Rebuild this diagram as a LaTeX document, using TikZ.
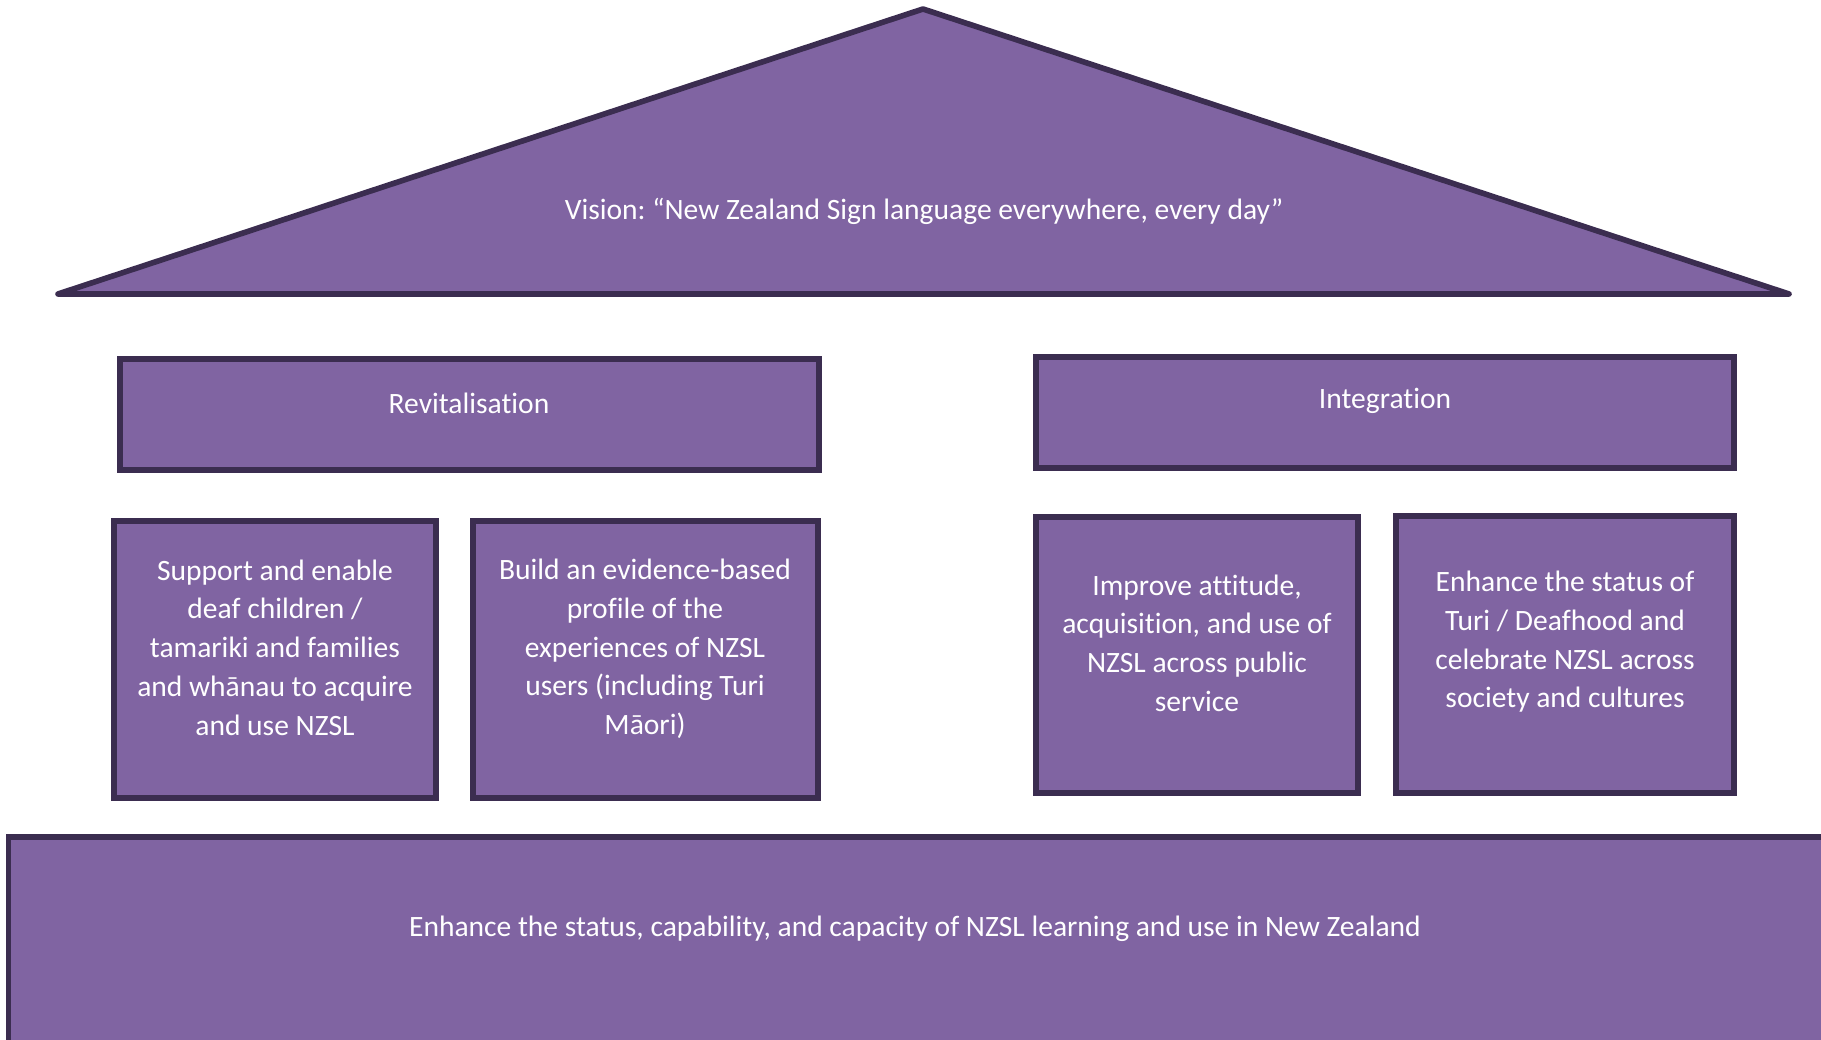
\documentclass[tikz,border=0pt]{standalone}
\usepackage{fontspec}
\setmainfont{Carlito}[Ligatures=NoCommon]
\usetikzlibrary{positioning}
\definecolor{nzslpurple}{HTML}{8064A2}
\definecolor{nzsldark}{HTML}{3B2D50}
\frenchspacing

\begin{document}
\begin{tikzpicture}[x=0.01cm, y=-0.01cm,
    blk/.style={draw=nzsldark, line width=1.6pt, fill=nzslpurple, inner sep=0pt},
    roof/.style={draw=nzsldark, line width=1.6pt, fill=nzslpurple, line join=round, line cap=round},
    txt/.style={text=white, font=\fontsize{8.4}{11}\selectfont, align=center, inner sep=0pt}
  ]
    \useasboundingbox (0,0) rectangle (1821,1040);
    % roof
    \coordinate (apex) at (923,9);
    \coordinate (eaveL) at (58,294);
    \coordinate (eaveR) at (1789,294);
    \draw[roof] (eaveL) -- (apex) -- (eaveR) -- cycle;
    \node[txt] (vision) at (924,211) {Vision: “New Zealand Sign language everywhere, every day”};

    % pillars
    \node[blk, minimum width=6.99cm, minimum height=1.11cm] (revit) at (469.5,414.5) {};
    \node[blk, minimum width=6.98cm, minimum height=1.11cm] (integ) at (1385,412.5) {};
    \node[txt] (revitlbl) at (469,403) {Revitalisation};
    \node[txt] (integlbl) at (1385,401) {Integration};

    \node[blk, minimum width=3.22cm, minimum height=2.77cm] (goal1) at (275,659.5) {};
    \node[blk, minimum width=3.45cm, minimum height=2.77cm] (goal2) at (645.5,659.5) {};
    \node[blk, minimum width=3.22cm, minimum height=2.76cm] (goal3) at (1197,655) {};
    \node[blk, minimum width=3.38cm, minimum height=2.77cm] (goal4) at (1565,654.5) {};
    \node[txt] (goal1lbl) at (275,647.5) {Support and enable\\deaf children /\\tamariki and families\\and whānau to acquire\\and use NZSL};
    \node[txt] (goal2lbl) at (645,649) {Build an evidence-based\\profile of the\\experiences of NZSL\\users (including Turi\\Māori)};
    \node[txt] (goal3lbl) at (1197,643) {Improve attitude,\\acquisition, and use of\\NZSL across public\\service};
    \node[txt] (goal4lbl) at (1565,642) {Enhance the status of\\Turi / Deafhood and\\celebrate NZSL across\\society and cultures};

    % foundation
    \node[blk, minimum width=18.41cm, minimum height=2.43cm] (found) at (929.5,958.5) {};
    \node[txt] (foundlbl) at (915,929) {Enhance the status, capability, and capacity of NZSL learning and use in New Zealand};
  \end{tikzpicture}
\end{document}
